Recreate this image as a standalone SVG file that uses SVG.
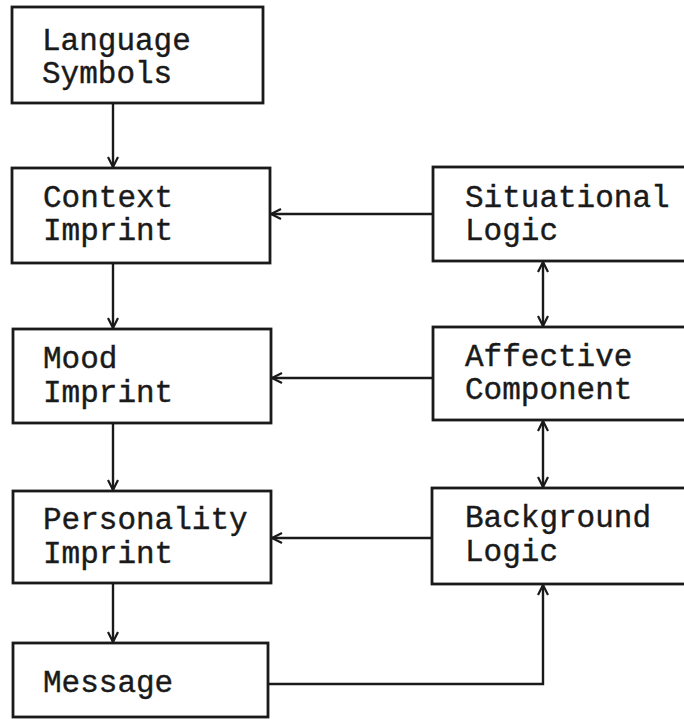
<svg xmlns="http://www.w3.org/2000/svg" width="684" height="719" viewBox="0 0 684 719">
<defs>
<style>
.box{fill:#fff;stroke:#1a1a1a;stroke-width:2.8}
.lbl{font-family:"Liberation Mono","Courier New",monospace;font-size:31px;fill:#1a1a1a;stroke:#1a1a1a;stroke-width:0.4}
.con{fill:none;stroke:#1a1a1a;stroke-width:2.4}
</style>
<marker id="ah" viewBox="0 0 12 12" refX="11" refY="6" markerWidth="12" markerHeight="12" markerUnits="userSpaceOnUse" orient="auto-start-reverse">
<path d="M1,1 L11,6 L1,11" fill="none" stroke="#1a1a1a" stroke-width="2.2"/>
</marker>
</defs>
<rect width="684" height="719" fill="#fff"/>
<g id="connectors">
<line class="con" x1="113" y1="103" x2="113" y2="167" marker-end="url(#ah)"/>
<line class="con" x1="113" y1="263" x2="113" y2="328" marker-end="url(#ah)"/>
<line class="con" x1="113" y1="423" x2="113" y2="490" marker-end="url(#ah)"/>
<line class="con" x1="113" y1="583" x2="113" y2="642" marker-end="url(#ah)"/>
<line class="con" x1="433" y1="214" x2="271" y2="214" marker-end="url(#ah)"/>
<line class="con" x1="433" y1="378" x2="272" y2="378" marker-end="url(#ah)"/>
<line class="con" x1="433" y1="538" x2="272" y2="538" marker-end="url(#ah)"/>
<line class="con" x1="543" y1="262" x2="543" y2="326" marker-start="url(#ah)" marker-end="url(#ah)"/>
<line class="con" x1="543" y1="421" x2="543" y2="487" marker-start="url(#ah)" marker-end="url(#ah)"/>
<polyline class="con" points="268,684 543,684 543,585" marker-end="url(#ah)"/>
</g>
<g id="language-symbols">
<rect class="box" x="12" y="7" width="251" height="96"/>
<text class="lbl" x="42" y="50">Language</text>
<text class="lbl" x="42" y="83">Symbols</text>
</g>
<g id="context-imprint">
<rect class="box" x="12" y="168" width="258" height="95"/>
<text class="lbl" x="43" y="207">Context</text>
<text class="lbl" x="43" y="240">Imprint</text>
</g>
<g id="mood-imprint">
<rect class="box" x="13" y="329" width="258" height="94"/>
<text class="lbl" x="43" y="368">Mood</text>
<text class="lbl" x="43" y="402">Imprint</text>
</g>
<g id="personality-imprint">
<rect class="box" x="13" y="491" width="258" height="92"/>
<text class="lbl" x="43" y="529">Personality</text>
<text class="lbl" x="43" y="563">Imprint</text>
</g>
<g id="message">
<rect class="box" x="13" y="643" width="255" height="74"/>
<text class="lbl" x="43" y="692">Message</text>
</g>
<g id="situational-logic">
<rect class="box" x="433" y="167" width="270" height="94"/>
<text class="lbl" x="465" y="207">Situational</text>
<text class="lbl" x="465" y="240">Logic</text>
</g>
<g id="affective-component">
<rect class="box" x="433" y="327" width="270" height="93"/>
<text class="lbl" x="465" y="366">Affective</text>
<text class="lbl" x="465" y="399">Component</text>
</g>
<g id="background-logic">
<rect class="box" x="432" y="488" width="270" height="96"/>
<text class="lbl" x="465" y="527">Background</text>
<text class="lbl" x="465" y="561">Logic</text>
</g>
</svg>
